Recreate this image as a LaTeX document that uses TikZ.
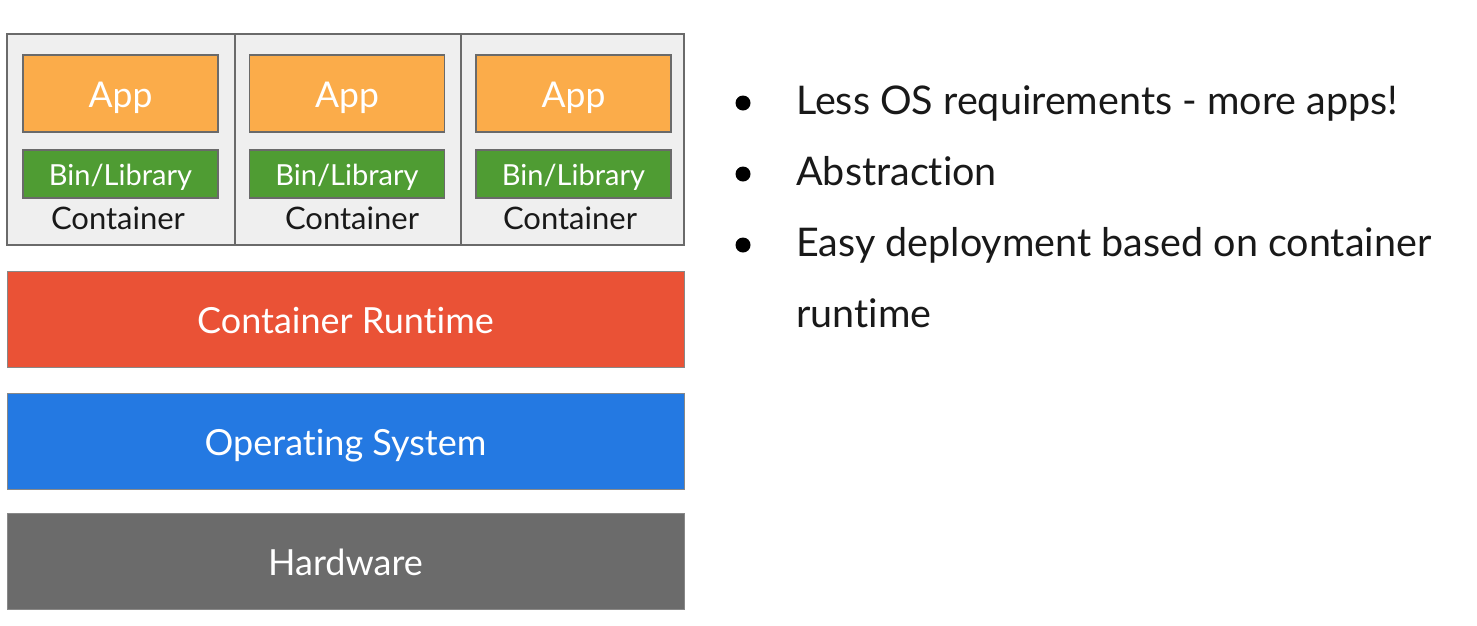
\documentclass[tikz,border=0pt]{standalone}
\usepackage{fontspec}
\setmainfont{Lato}[Ligatures={NoCommon,NoRare,NoContextual}]
\newcommand{\tiNL}{t\kern0pt i}
\definecolor{cellgray}{HTML}{EFEFEF}
\definecolor{edgegray}{HTML}{6A6A6A}
\definecolor{apporange}{HTML}{FBAC4A}
\definecolor{bingreen}{HTML}{4F9C33}
\definecolor{rtred}{HTML}{EA5236}
\definecolor{osblue}{HTML}{2479E2}
\definecolor{hwgray}{HTML}{6B6B6B}
\tikzset{
  cell/.style={draw=edgegray, fill=cellgray, line width=1.2pt, inner sep=0pt, minimum height=211pt},
  appbox/.style={draw=edgegray, fill=apporange, line width=1.2pt, inner sep=0pt, minimum width=195pt, minimum height=77pt, text=white, text height=28.6pt, text depth=0pt, font=\fontsize{35.5}{40}\selectfont},
  binbox/.style={draw=edgegray, fill=bingreen, line width=1.2pt, inner sep=0pt, minimum width=195pt, minimum height=48pt, text=white, text height=22.8pt, text depth=0pt, font=\fontsize{29}{34}\selectfont},
  ctext/.style={inner sep=0pt, text=black!90, font=\fontsize{31}{36}\selectfont},
  layer/.style={draw=edgegray!80, line width=1pt, inner sep=0pt, minimum width=677pt, minimum height=96pt, text=white, text height=28pt, text depth=0pt, font=\fontsize{36}{42}\selectfont},
  bullettext/.style={inner sep=0pt, anchor=base west, text=black!90, font=\fontsize{39.5}{46}\selectfont},
  dot/.style={circle, fill=black, inner sep=0pt, minimum size=15pt}
}
\begin{document}
\begin{tikzpicture}[x=1pt,y=-1pt]
\useasboundingbox[fill=white] (0,0) rectangle (1477,625);
% containers
\node[cell, minimum width=228pt] (c1) at (121,139.5) {};
\node[cell, minimum width=226pt] (c2) at (348,139.5) {};
\node[cell, minimum width=223pt] (c3) at (572.5,139.5) {};
\node[appbox] (a1) at (120.5,93.5) {App};
\node[appbox] (a2) at (347,93.5) {App};
\node[appbox] (a3) at (573.5,93.5) {App};
\node[binbox] (b1) at (120.5,174) {Bin/Library};
\node[binbox] (b2) at (347,174) {Bin/Library};
\node[binbox] (b3) at (573.5,174) {Bin/Library};
\node[ctext] (t1) at (118,218) {Container};
\node[ctext] (t2) at (352,218) {Container};
\node[ctext] (t3) at (570,218) {Container};
% layers
\node[layer, fill=rtred] (rt) at (345.5,319) {Container Run\tiNL me};
\node[layer, fill=osblue] (os) at (345.5,441) {Opera\tiNL ng System};
\node[layer, fill=hwgray] (hw) at (345.5,561) {Hardware};
% bullets
\node[dot] (d1) at (743,103) {};
\node[dot] (d2) at (743,174) {};
\node[dot] (d3) at (743,245) {};
\node[bullettext] (l1) at (796,114) {Less OS requirements - more apps!};
\node[bullettext] (l2) at (796,185) {Abstrac\tiNL on};
\node[bullettext] (l3) at (796,256) {Easy deployment based on container};
\node[bullettext] (l4) at (796,327) {run\tiNL me};
\end{tikzpicture}
\end{document}
